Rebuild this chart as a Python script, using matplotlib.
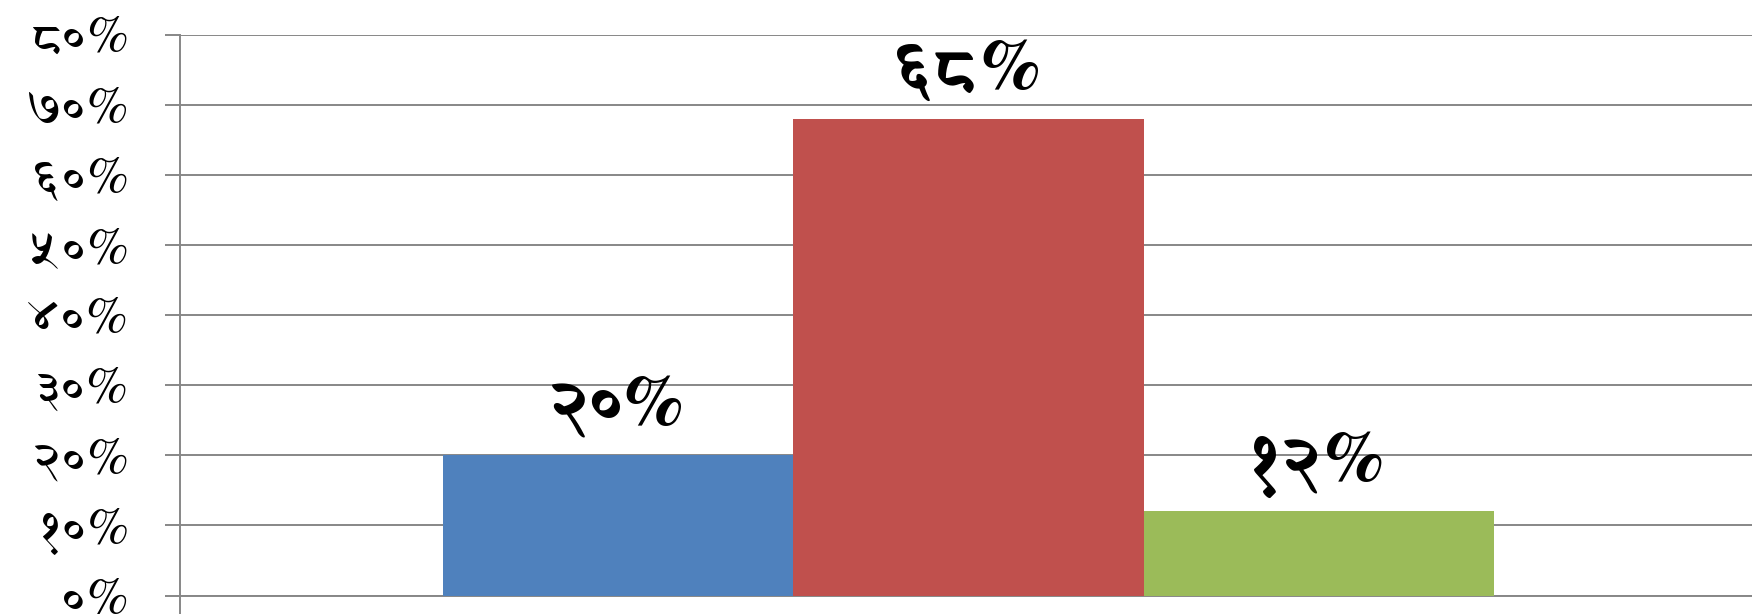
import matplotlib
matplotlib.use('Agg')
import matplotlib.pyplot as plt

# data #
series = ['A', 'B', 'C']
values = [20, 68, 12]
value_labels = ['२०%', '६८%', '१२%']
colors = ['#4F81BD', '#C0504D', '#9BBB59']
yticks = [0, 10, 20, 30, 40, 50, 60, 70, 80]
ytick_labels = ['०%', '१०%', '२०%', '३०%', '४०%', '५०%', '६०%', '७०%', '८०%']

plt.rcParams['font.family'] = ['FreeSerif', 'Noto Sans Devanagari', 'DejaVu Sans']

fig = plt.figure(figsize=(17.52, 6.14), dpi=100)
ax = fig.add_axes([180/1752, 1 - 595.6/614, 1577/1752, 561/614])

width = 0.6667 / len(values)
for i, (v, lab, c) in enumerate(zip(values, value_labels, colors)):
    x = 0.5 + (i - 1) * width
    ax.bar(x, v, width=width, color=c, zorder=3)
    ax.text(x, v + 4.3, lab, ha='center', va='baseline', fontsize=52,
            fontweight='bold', zorder=4)

ax.set_xlim(0, 1)
ax.set_ylim(0, 80)
ax.set_yticks(yticks)
ax.set_yticklabels(ytick_labels, fontsize=37)
ax.set_xticks([0])
ax.set_xticklabels([''])
ax.tick_params(axis='y', direction='out', length=11, width=1.4, color='#878787', pad=26)
ax.tick_params(axis='x', direction='out', length=14, width=1.4, color='#878787')
ax.yaxis.grid(True, color='#878787', linewidth=1.4, zorder=0)
for s in ['top', 'right']:
    ax.spines[s].set_visible(False)
for s in ['left', 'bottom']:
    ax.spines[s].set_color('#878787')
    ax.spines[s].set_linewidth(1.4)

fig.savefig('out.png')
